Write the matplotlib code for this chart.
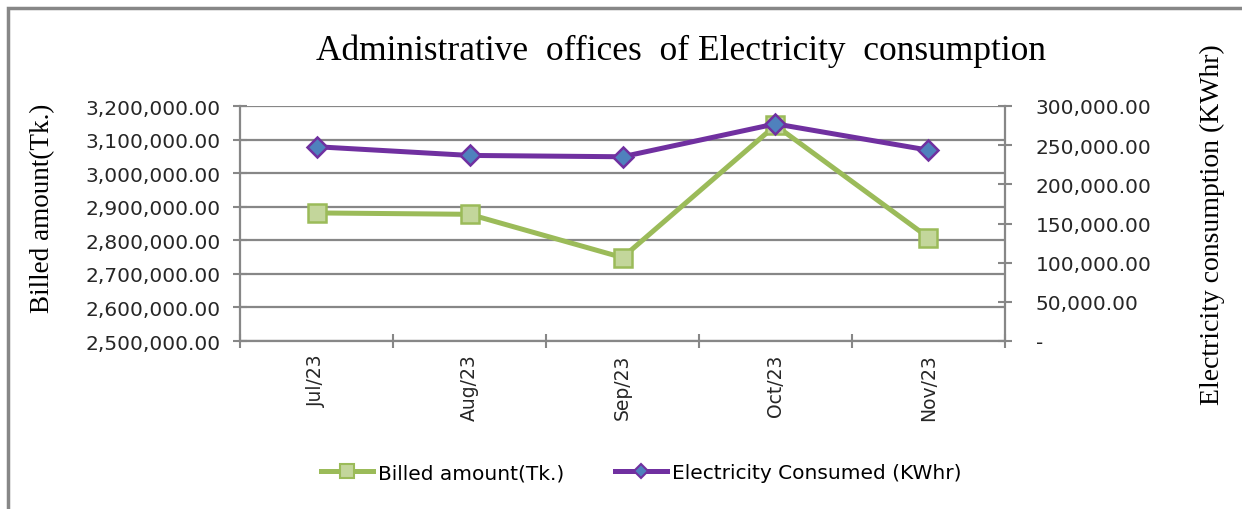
import matplotlib
matplotlib.use("Agg")
import matplotlib.pyplot as plt
from matplotlib.lines import Line2D
from matplotlib.patches import Rectangle
from matplotlib.ticker import FuncFormatter, MultipleLocator

# values
months = ["Jul/23", "Aug/23", "Sep/23", "Oct/23", "Nov/23"]
billed = [2881500, 2877400, 2748500, 3142300, 2808000]   # Tk.
consumed = [248000, 236900, 235200, 277200, 243600]      # KWhr

GREEN = "#9BBB59"
GREEN_FACE = "#C3D69B"
PURPLE = "#7030A0"
BLUE = "#4F81BD"
GREY = "#878787"

TICK_FONT = "DejaVu Sans"
SERIF = "Liberation Serif"


def money(v, pos):
    return f"{v:,.2f}"


def money_dash(v, pos):
    if abs(v) < 1e-6:
        return "-"
    return f"{v:,.2f}"


fig = plt.figure(figsize=(12.42, 5.10), dpi=100)

# chart frame (picture is cropped on the right and bottom)
fig.patches.append(Rectangle((8 / 1242, -0.1), 1.2, 1 - 9 / 510 + 0.1,
                             transform=fig.transFigure, fill=False,
                             edgecolor=GREY, linewidth=2.5))

ax = fig.add_axes([240 / 1242, 1 - 342 / 510, 765 / 1242, 235 / 510])
ax2 = ax.twinx()

x = list(range(len(months)))
ax.plot(x, billed, color=GREEN, lw=3.6, marker="s", markersize=13,
        markerfacecolor=GREEN_FACE, markeredgecolor=GREEN, markeredgewidth=1.8,
        zorder=3)
ax2.plot(x, consumed, color=PURPLE, lw=3.6, marker="D", markersize=10,
         markerfacecolor=BLUE, markeredgecolor=PURPLE, markeredgewidth=1.8,
         zorder=3)

ax.set_xlim(-0.5, len(months) - 0.5)
ax.set_ylim(2500000, 3200000)
ax2.set_ylim(0, 300000)
ax.yaxis.set_major_locator(MultipleLocator(100000))
ax2.yaxis.set_major_locator(MultipleLocator(50000))
ax.yaxis.set_major_formatter(FuncFormatter(money))
ax2.yaxis.set_major_formatter(FuncFormatter(money_dash))

ax.grid(axis="y", color=GREY, lw=1.6)
ax.set_axisbelow(True)

# category labels in the middle, tick marks on the boundaries
ax.set_xticks(x)
ax.set_xticklabels(months, rotation=90, fontsize=13.5, family=TICK_FONT,
                   color="#262626")
ax.set_xticks([i - 0.5 for i in range(len(months) + 1)], minor=True)
ax.tick_params(axis="x", which="major", length=0, pad=9)
ax.tick_params(axis="x", which="minor", direction="inout", length=10,
               color=GREY, width=1.5)

ax.tick_params(axis="y", direction="inout", length=10, color=GREY, width=1.5,
               labelsize=14.5, pad=9)
ax2.tick_params(axis="y", direction="inout", length=10, color=GREY, width=1.5,
                labelsize=14.5, pad=17)
for lab in ax.get_yticklabels() + ax2.get_yticklabels():
    lab.set_family(TICK_FONT)
    lab.set_color("#262626")

for a in (ax, ax2):
    for s in a.spines.values():
        s.set_visible(False)
ax.spines["left"].set_visible(True)
ax.spines["bottom"].set_visible(True)
ax2.spines["right"].set_visible(True)
for s in (ax.spines["left"], ax.spines["bottom"], ax2.spines["right"]):
    s.set_color(GREY)
    s.set_linewidth(1.6)

fig.text(681 / 1242, 1 - 51 / 510, "Administrative  offices  of Electricity  consumption",
         ha="center", va="center", fontsize=25.5, family=SERIF)
fig.text(43 / 1242, 1 - 208 / 510, "Billed amount(Tk.)", rotation=90,
         ha="center", va="center", fontsize=19.5, family=SERIF)
fig.text(1212 / 1242, 1 - 225 / 510, "Electricity consumption (KWhr)", rotation=90,
         ha="center", va="center", fontsize=20, family=SERIF)

handles = [
    Line2D([], [], color=GREEN, lw=3.6, marker="s", markersize=10,
           markerfacecolor=GREEN_FACE, markeredgecolor=GREEN, markeredgewidth=1.5),
    Line2D([], [], color=PURPLE, lw=3.6, marker="D", markersize=7,
           markerfacecolor=BLUE, markeredgecolor=PURPLE, markeredgewidth=1.5),
]
fig.legend(handles, ["Billed amount(Tk.)", "Electricity Consumed (KWhr)"],
           loc="center", bbox_to_anchor=(641 / 1242, 1 - 474 / 510), ncol=2,
           frameon=False, handlelength=2.6, handletextpad=0.25, columnspacing=2.5,
           prop={"family": TICK_FONT, "size": 14.5})

fig.savefig("out.png", dpi=100)
